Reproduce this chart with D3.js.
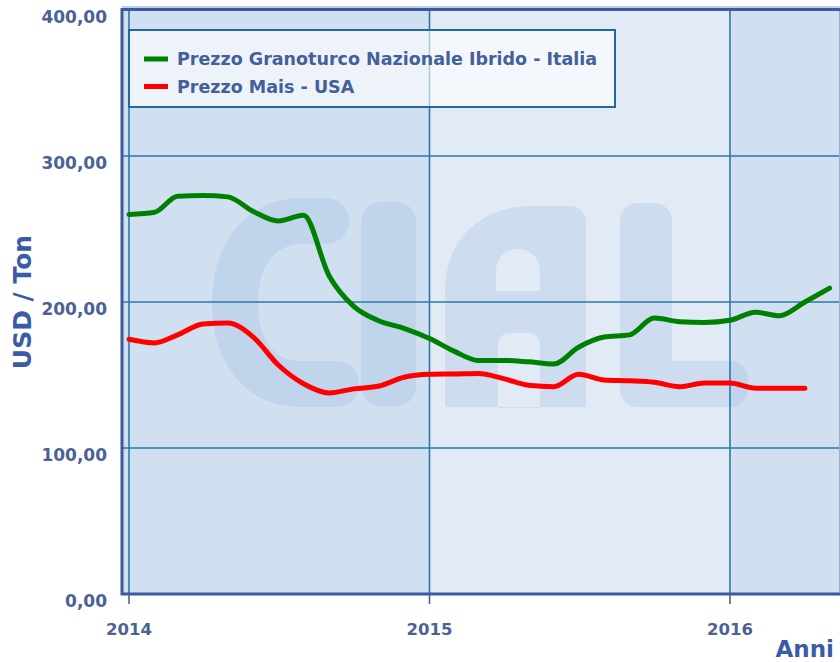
<!DOCTYPE html>
<html><head><meta charset="utf-8">
<script src="https://cdn.jsdelivr.net/npm/d3@7/dist/d3.min.js"></script>
<style>body{margin:0;background:#fff}svg{display:block}</style>
</head><body><svg id="c" width="840" height="662"></svg>
<script>
// ---- data ----
const months = ["2014-01","2014-02","2014-03","2014-04","2014-05","2014-06","2014-07","2014-08","2014-09","2014-10","2014-11","2014-12",
  "2015-01","2015-02","2015-03","2015-04","2015-05","2015-06","2015-07","2015-08","2015-09","2015-10","2015-11","2015-12",
  "2016-01","2016-02","2016-03","2016-04","2016-05"];
const italia = [260,261.5,272.5,273,272,262,255.5,259.5,218,197,187,182,
  175,166,160,160,159,157.5,169,176,177.5,189,186.5,186,
  187.5,193,190.5,200,209.5];
const usa = [174.5,172,177.5,185,185.6,176,157,144,137.7,140.5,142.5,148.5,
  150.5,150.7,151,147.5,143,142,150.5,146.6,146,145,142,144.5,
  144.5,141,141,141,null];
const yTicks = [0,100,200,300,400];
const yTickLabels = ["0,00","100,00","200,00","300,00","400,00"];
const xTickYears = ["2014","2015","2016"];
const legendLabels = ["Prezzo Granoturco Nazionale Ibrido - Italia","Prezzo Mais - USA"];
const seriesColors = ["#008000","#ff0000"];
const yTitle = "USD / Ton";
const xTitle = "Anni";

// ---- layout ----
const svg = d3.select("#c");
const FONT = "'DejaVu Sans', Verdana, sans-serif";
const parse = d3.timeParse("%Y-%m");
const parseY = d3.timeParse("%Y");
const dates = months.map(parse);
const yearDates = xTickYears.map(parseY);

const plotL = 122, plotR = 839, plotT = 9, plotB = 594;
const x = d3.scaleTime().domain([yearDates[0], yearDates[2]]).range([129, 730]);
const y = d3.scaleLinear().domain([0, 400]).range([594, 10]);

const darkBand = "#d1e0f0", lightBand = "#e2eaf5";
// bands
const bandEdges = [plotL, x(yearDates[1]), x(yearDates[2]), plotR];
const bandFill = [darkBand, lightBand, darkBand];
svg.append("g").selectAll("rect").data(bandFill).join("rect")
  .attr("x", (d,i)=>bandEdges[i]).attr("y", plotT)
  .attr("width", (d,i)=>bandEdges[i+1]-bandEdges[i]).attr("height", plotB-plotT)
  .attr("fill", d=>d);

// watermark CIAL
const wm = svg.append("g").attr("opacity", 0.2);
const wmCol = "#7ea6d8";
wm.append("path")
  .attr("d", "M326,221 L302,221 C258,221 235,258 235,303 C235,350 258,384 302,384 L336,384")
  .attr("fill","none").attr("stroke", wmCol).attr("stroke-width", 46).attr("stroke-linecap","round");
wm.append("rect").attr("x",361).attr("y",202).attr("width",55).attr("height",204).attr("rx",20).attr("fill",wmCol);
wm.append("path").attr("fill-rule","evenodd").attr("fill", wmCol)
  .attr("d", "M445,407 L445,292 C445,238 482,206 532,206 L568,206 Q586,206 586,224 L586,407 Z " +
             "M496,291 L496,272 C496,257 506,249 518,249 C531,249 540,258 540,273 L540,291 Z " +
             "M498,408 L498,346 Q498,333 511,333 L527,333 Q540,333 540,346 L540,408 Z");
wm.append("rect").attr("x",620).attr("y",203).attr("width",52).attr("height",204).attr("rx",18).attr("fill",wmCol);
wm.append("rect").attr("x",620).attr("y",361).attr("width",128).attr("height",46).attr("rx",18).attr("fill",wmCol);

// gridlines
const gridCol = "#2a78ab";
svg.append("g").selectAll("line").data(yTicks.filter(v=>v>0 && v<400)).join("line")
  .attr("x1", plotL).attr("x2", plotR).attr("y1", d=>y(d)).attr("y2", d=>y(d))
  .attr("stroke", gridCol).attr("stroke-width", 1.6);
svg.append("g").selectAll("line").data(yearDates).join("line")
  .attr("x1", d=>x(d)).attr("x2", d=>x(d)).attr("y1", plotT).attr("y2", plotB)
  .attr("stroke", gridCol).attr("stroke-width", 1.6);

// clip
svg.append("clipPath").attr("id","clip").append("rect")
  .attr("x", plotL).attr("y", plotT).attr("width", plotR-plotL).attr("height", plotB-plotT);

// lines
const line = d3.line().defined(d=>d[1]!=null).x(d=>x(d[0])).y(d=>y(d[1])).curve(d3.curveMonotoneX);
[italia, usa].forEach((s,i)=>{
  svg.append("path").attr("clip-path","url(#clip)")
    .datum(dates.map((d,j)=>[d, s[j]]))
    .attr("d", line).attr("fill","none").attr("stroke", seriesColors[i])
    .attr("stroke-width", 5).attr("stroke-linejoin","round").attr("stroke-linecap","round");
});

// legend
const lg = svg.append("g");
lg.append("rect").attr("x",129).attr("y",30).attr("width",486).attr("height",77)
  .attr("fill","#ffffff").attr("fill-opacity",0.62).attr("stroke","#2369a0").attr("stroke-width",2);
legendLabels.forEach((t,i)=>{
  const cy = 59 + i*27.5;
  lg.append("line").attr("x1",144).attr("x2",168).attr("y1",cy).attr("y2",cy)
    .attr("stroke", seriesColors[i]).attr("stroke-width",5);
  lg.append("text").attr("x",177).attr("y",cy).attr("dy","0.35em")
    .attr("font-family",FONT).attr("font-weight","bold").attr("font-size",17.5)
    .attr("fill","#42609a").text(t);
});

// frame
const frameCol = "#3b5b9e";
svg.append("line").attr("x1",plotL).attr("x2",plotR+1).attr("y1",7).attr("y2",7).attr("stroke","#a9bcdc").attr("stroke-width",1.5);
svg.append("rect").attr("x",plotL).attr("y",plotT+0.5).attr("width",plotR-plotL+2).attr("height",plotB-plotT-0.5)
  .attr("fill","none").attr("stroke",frameCol).attr("stroke-width",3);

// y ticks labels
svg.append("g").selectAll("text").data(yTicks).join("text")
  .attr("x",107).attr("y", d=>y(d)+7).attr("dy","0.35em").attr("text-anchor","end")
  .attr("font-family",FONT).attr("font-weight","bold").attr("font-size",17)
  .attr("fill","#4a6296").text((d,i)=>yTickLabels[i]);

// x ticks
svg.append("g").selectAll("line").data(yearDates).join("line")
  .attr("x1",d=>x(d)).attr("x2",d=>x(d)).attr("y1",plotB).attr("y2",604)
  .attr("stroke","#4a6296").attr("stroke-width",1.6);
svg.append("g").selectAll("text").data(yearDates).join("text")
  .attr("x",d=>x(d)).attr("y",629).attr("dy","0.35em").attr("text-anchor","middle")
  .attr("font-family",FONT).attr("font-weight","bold").attr("font-size",16.5)
  .attr("fill","#4a6296").text((d,i)=>xTickYears[i]);

// axis titles
svg.append("text").attr("transform","translate(22,302) rotate(-90)")
  .attr("dy","0.35em").attr("text-anchor","middle")
  .attr("font-family",FONT).attr("font-weight","bold").attr("font-size",25)
  .attr("fill","#3a5ca6").text(yTitle);
svg.append("text").attr("x",834).attr("y",657).attr("text-anchor","end")
  .attr("font-family",FONT).attr("font-weight","bold").attr("font-size",23)
  .attr("fill","#3a5ca6").text(xTitle);
</script>
</body></html>
